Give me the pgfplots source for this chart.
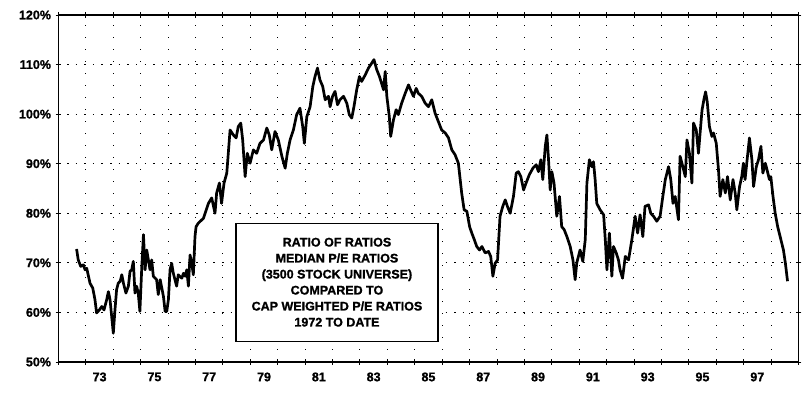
\documentclass[border=0pt]{standalone}
\usepackage{pgfplots}
\pgfplotsset{compat=1.18}
\usepackage{fontspec}
\setmainfont{Liberation Sans}[BoldFeatures={FakeBold=1.2}]
\begin{document}
\begin{tikzpicture}
\begin{axis}[
  scale only axis,
  width=740bp, height=347bp,
  xmin=1972, xmax=1999,
  ymin=50, ymax=120,
  xtick={1972,...,1999},
  xticklabels={,73,,75,,77,,79,,81,,83,,85,,87,,89,,91,,93,,95,,97,},
  x tick label as interval,
  ytick={50,60,...,120},
  yticklabel={\pgfmathprintnumber{\tick}\%},
  /pgf/number format/assume math mode=true,
  tick label style={font=\fontsize{12.5bp}{14bp}\selectfont\bfseries, black},
  xticklabel style={yshift=-4bp},
  yticklabel style={xshift=-1bp},
  tick align=center,
  major tick length=6bp,
  tick style={black, line width=0.9bp},
  axis line style={black, line width=1.4bp},
  xmajorgrids, ymajorgrids,
  every axis x grid/.append style={black, line width=1bp, dash pattern=on 1bp off 11bp},
  every axis y grid/.append style={black, line width=1bp, dash pattern=on 1.6bp off 7bp},
  clip=true,
]
\addplot[black, line width=2.7bp, line join=round] table {
x y
1972.66 72.8
1972.72 70.6
1972.81 69.3
1972.91 69.6
1972.97 68.6
1973.03 68.9
1973.15 65.9
1973.25 64.9
1973.33 62.6
1973.39 59.9
1973.49 60.5
1973.58 61.2
1973.66 60.5
1973.76 62.6
1973.82 64.2
1973.88 62.6
1973.94 59.2
1974.00 55.8
1974.06 60.5
1974.12 64.6
1974.18 65.9
1974.25 66.3
1974.31 67.6
1974.37 65.9
1974.46 63.9
1974.55 65.3
1974.61 68.3
1974.67 68.6
1974.73 70.3
1974.79 63.9
1974.85 65.3
1974.91 63.9
1974.97 60.2
1975.04 69.3
1975.10 75.7
1975.16 68.6
1975.22 72.6
1975.28 70.6
1975.34 68.6
1975.40 70.6
1975.46 67.3
1975.58 66.6
1975.64 63.6
1975.71 66.6
1975.83 63.2
1975.89 60.2
1975.95 60.2
1976.01 62.6
1976.07 68.6
1976.13 69.9
1976.19 67.9
1976.25 66.6
1976.31 65.3
1976.37 67.6
1976.50 66.9
1976.56 67.9
1976.62 67.3
1976.68 68.6
1976.74 65.3
1976.80 71.6
1976.86 69.9
1976.92 67.6
1976.98 75.3
1977.02 77.3
1977.10 78.0
1977.29 79.0
1977.47 82.0
1977.59 83.1
1977.71 80.0
1977.77 84.1
1977.87 86.1
1977.95 82.0
1978.04 86.1
1978.14 88.1
1978.26 96.8
1978.38 95.8
1978.48 95.2
1978.56 97.5
1978.65 98.2
1978.72 94.8
1978.81 87.4
1978.89 92.1
1978.99 90.1
1979.11 92.8
1979.23 92.1
1979.35 94.1
1979.48 94.8
1979.60 97.2
1979.69 95.8
1979.78 92.8
1979.90 96.5
1980.02 94.8
1980.15 91.5
1980.27 89.1
1980.35 92.1
1980.45 94.8
1980.57 96.8
1980.69 99.9
1980.81 101.2
1980.91 97.5
1980.97 94.1
1981.06 99.5
1981.18 101.5
1981.28 105.6
1981.36 107.6
1981.45 109.3
1981.54 106.9
1981.64 105.6
1981.73 102.9
1981.85 103.6
1981.91 101.5
1982.00 103.6
1982.09 104.6
1982.18 101.9
1982.27 102.9
1982.40 103.6
1982.52 102.2
1982.61 99.9
1982.70 99.2
1982.78 101.5
1982.88 104.9
1982.98 107.6
1983.06 106.6
1983.19 107.9
1983.31 109.3
1983.43 110.3
1983.51 111.0
1983.61 109.0
1983.71 107.6
1983.79 106.2
1983.86 104.9
1983.92 108.6
1983.98 103.6
1984.07 99.5
1984.12 95.5
1984.22 98.8
1984.32 100.9
1984.40 99.9
1984.52 102.2
1984.65 104.2
1984.77 105.9
1984.87 104.6
1984.95 103.6
1985.05 105.2
1985.13 104.2
1985.25 103.6
1985.38 102.2
1985.50 101.5
1985.62 102.9
1985.74 100.2
1985.86 98.5
1985.98 96.8
1986.11 96.2
1986.23 95.2
1986.35 92.8
1986.47 91.8
1986.59 90.1
1986.71 84.1
1986.80 80.7
1986.90 80.4
1987.00 77.3
1987.08 76.0
1987.17 74.7
1987.26 73.3
1987.36 72.6
1987.45 73.3
1987.57 72.0
1987.69 72.3
1987.77 71.3
1987.85 67.3
1987.93 69.9
1988.02 70.6
1988.11 79.4
1988.21 81.4
1988.30 82.7
1988.38 81.4
1988.48 80.0
1988.60 83.4
1988.70 88.1
1988.78 88.4
1988.87 87.4
1988.97 84.7
1989.06 86.1
1989.18 87.8
1989.31 89.1
1989.43 89.8
1989.51 88.4
1989.60 90.8
1989.67 86.8
1989.76 93.5
1989.82 95.8
1989.88 90.8
1989.94 84.7
1990.00 88.4
1990.08 86.1
1990.18 79.4
1990.28 83.4
1990.36 77.3
1990.45 76.7
1990.55 75.3
1990.67 73.3
1990.77 70.6
1990.85 66.6
1990.91 70.0
1991.03 72.6
1991.13 70.3
1991.22 74.7
1991.28 86.1
1991.37 90.8
1991.46 89.4
1991.52 90.4
1991.58 86.8
1991.64 82.0
1991.76 80.7
1991.89 79.7
1991.95 74.7
1992.01 68.6
1992.10 76.0
1992.19 67.3
1992.25 73.3
1992.35 72.0
1992.43 70.6
1992.49 68.6
1992.58 66.9
1992.68 71.3
1992.80 70.6
1992.92 74.7
1993.04 79.4
1993.13 76.0
1993.22 79.7
1993.32 75.3
1993.40 81.4
1993.53 81.7
1993.61 80.0
1993.71 79.4
1993.83 78.4
1993.95 79.4
1994.05 83.4
1994.14 86.8
1994.26 89.4
1994.34 86.8
1994.42 82.0
1994.50 83.4
1994.62 78.7
1994.68 91.5
1994.78 89.4
1994.87 87.4
1994.93 94.8
1995.02 92.1
1995.11 86.1
1995.17 98.2
1995.27 96.8
1995.35 92.1
1995.41 96.2
1995.48 100.8
1995.55 103.0
1995.61 104.5
1995.67 102.5
1995.75 97.5
1995.84 95.5
1995.90 96.2
1996.00 94.1
1996.08 88.8
1996.14 83.4
1996.24 86.8
1996.33 84.1
1996.41 87.4
1996.51 82.7
1996.61 86.8
1996.69 84.1
1996.75 80.7
1996.85 85.4
1996.93 87.4
1996.99 90.1
1997.05 86.8
1997.15 92.1
1997.21 95.2
1997.30 90.8
1997.36 85.4
1997.46 89.4
1997.54 90.8
1997.63 93.5
1997.70 88.1
1997.79 90.1
1997.85 88.8
1997.94 86.8
1997.99 87.4
1998.07 83.4
1998.15 80.0
1998.24 77.3
1998.33 75.3
1998.45 72.6
1998.52 70.0
1998.60 66.3
};
\node[draw=black, line width=1.2bp, fill=white, align=center,
      minimum width=202bp, minimum height=118bp, inner sep=0pt,
      font=\fontsize{12.5bp}{16bp}\selectfont\bfseries]
  at (axis cs:1982.16,66.1)
  {RATIO OF RATIOS\\MEDIAN P/E RATIOS\\(3500 STOCK UNIVERSE)\\COMPARED TO\\CAP WEIGHTED P/E RATIOS\\1972 TO DATE};
\end{axis}
\path (-58.5bp,-33bp) rectangle (749.5bp,362bp);
\end{tikzpicture}
\end{document}
